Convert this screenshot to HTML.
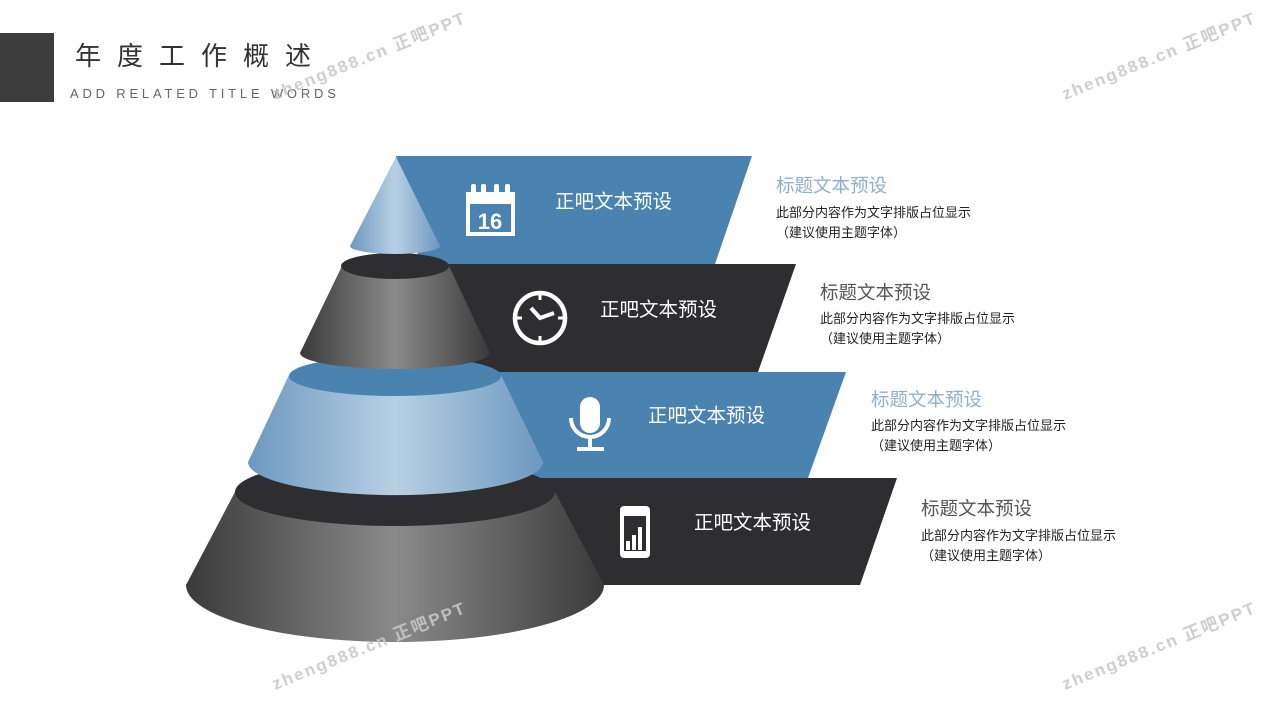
<!DOCTYPE html>
<html><head><meta charset="utf-8"><style>
html,body{margin:0;padding:0;background:#fff;}
svg{display:block;font-family:"Liberation Sans","Noto Sans CJK SC",sans-serif;}
</style></head><body>
<svg width="1280" height="720" viewBox="0 0 1280 720" xmlns="http://www.w3.org/2000/svg">
<defs>
<linearGradient id="gd" x1="0" x2="1" y1="0" y2="0">
<stop offset="0" stop-color="#3a3a3a"/><stop offset="0.5" stop-color="#8a8a8a"/><stop offset="1" stop-color="#3a3a3a"/>
</linearGradient>
<linearGradient id="gb" x1="0" x2="1" y1="0" y2="0">
<stop offset="0" stop-color="#6d98c0"/><stop offset="0.5" stop-color="#b8d0e4"/><stop offset="1" stop-color="#6d98c0"/>
</linearGradient>
</defs>
<!-- header -->
<rect x="0" y="33" width="54" height="69" fill="#3d3d3d"/>
<text x="75" y="65" font-size="26" fill="#333" letter-spacing="16">年度工作概述</text>
<text x="70" y="98" font-size="13" fill="#666" letter-spacing="3.8">ADD RELATED TITLE WORDS</text>
<!-- bands -->
<polygon points="396,156 752,156 715,264 420,264" fill="#4a82b0"/>
<polygon points="420,264 796,264 758,372 440,372" fill="#2e2e30"/>
<polygon points="440,372 846,372 808,478 460,478" fill="#4a82b0"/>
<polygon points="460,478 897,478 860,585 480,585" fill="#2e2e30"/>
<!-- cone segment 4 -->
<path d="M235,492 L186,585 A209,57 0 0 0 604,585 L555,492 Z" fill="url(#gd)"/>
<ellipse cx="395" cy="492" rx="160" ry="34" fill="#2e2e30"/>
<!-- segment 3 -->
<path d="M289,375 L248,462 A147,33 0 0 0 543,462 L501,375 Z" fill="url(#gb)"/>
<ellipse cx="395" cy="376" rx="106" ry="20" fill="#4a82b0"/>
<!-- segment 2 -->
<path d="M342,266 L300,353 A95,16 0 0 0 490,353 L449,266 Z" fill="url(#gd)"/>
<ellipse cx="395" cy="266" rx="54" ry="13" fill="#2e2e30"/>
<!-- segment 1 -->
<path d="M396,157 L350,246 A45,8 0 0 0 440,246 Z" fill="url(#gb)"/>
<!-- band labels -->
<g fill="#fff" font-size="19.5">
<text x="555" y="208">正吧文本预设</text>
<text x="600" y="316">正吧文本预设</text>
<text x="648" y="422">正吧文本预设</text>
<text x="694" y="529">正吧文本预设</text>
</g>
<!-- icons -->
<g fill="#fff">
<rect x="466" y="192" width="49" height="44"/>
<rect x="470" y="204" width="41" height="28" fill="#4a82b0"/>
<rect x="471" y="184" width="5" height="13" rx="2"/><rect x="481" y="184" width="5" height="13" rx="2"/><rect x="494" y="184" width="5" height="13" rx="2"/><rect x="505" y="184" width="5" height="13" rx="2"/>
<text x="490" y="229" font-size="22" font-weight="bold" text-anchor="middle">16</text>
</g>
<g stroke="#fff" fill="none" stroke-width="4.5">
<circle cx="540" cy="318" r="25"/>
<polyline points="531,308 540,318 554,313" stroke-width="4"/>
<line x1="540" y1="293" x2="540" y2="300" stroke-width="3"/><line x1="540" y1="336" x2="540" y2="343" stroke-width="3"/>
<line x1="515" y1="318" x2="522" y2="318" stroke-width="3"/><line x1="558" y1="318" x2="565" y2="318" stroke-width="3"/>
<path d="M571,418 A19,19 0 0 0 609,418" stroke-width="4"/>
<line x1="590" y1="437" x2="590" y2="448" stroke-width="4"/>
</g>
<rect x="580" y="397" width="20" height="36" rx="10" fill="#fff"/>
<rect x="577" y="447" width="27" height="4" fill="#fff"/>
<rect x="620" y="506" width="30" height="52" rx="4" fill="#fff"/>
<rect x="624" y="516" width="22" height="35" fill="#2e2e30"/>
<rect x="626" y="541" width="4" height="9" fill="#fff"/><rect x="632" y="535" width="4" height="15" fill="#fff"/><rect x="638" y="527" width="4" height="23" fill="#fff"/>
<!-- right texts -->
<g font-size="18.5">
<text x="776" y="192" fill="#8fb0cc">标题文本预设</text>
<text x="820" y="299" fill="#555">标题文本预设</text>
<text x="871" y="406" fill="#8fb0cc">标题文本预设</text>
<text x="921" y="515" fill="#555">标题文本预设</text>
</g>
<g font-size="13" fill="#222">
<text x="776" y="217">此部分内容作为文字排版占位显示</text><text x="776" y="237">（建议使用主题字体）</text>
<text x="820" y="323">此部分内容作为文字排版占位显示</text><text x="820" y="343">（建议使用主题字体）</text>
<text x="871" y="430">此部分内容作为文字排版占位显示</text><text x="871" y="450">（建议使用主题字体）</text>
<text x="921" y="540">此部分内容作为文字排版占位显示</text><text x="921" y="560">（建议使用主题字体）</text>
</g>
<!-- watermarks -->
<g fill="#c8c8c8" font-size="17" font-weight="bold" letter-spacing="2" opacity="0.9">
<text transform="translate(275,100) rotate(-22)">zheng888.cn 正吧PPT</text>
<text transform="translate(1065,100) rotate(-22)">zheng888.cn 正吧PPT</text>
<text transform="translate(275,690) rotate(-22)">zheng888.cn 正吧PPT</text>
<text transform="translate(1065,690) rotate(-22)">zheng888.cn 正吧PPT</text>
</g>
</svg>
</body></html>
